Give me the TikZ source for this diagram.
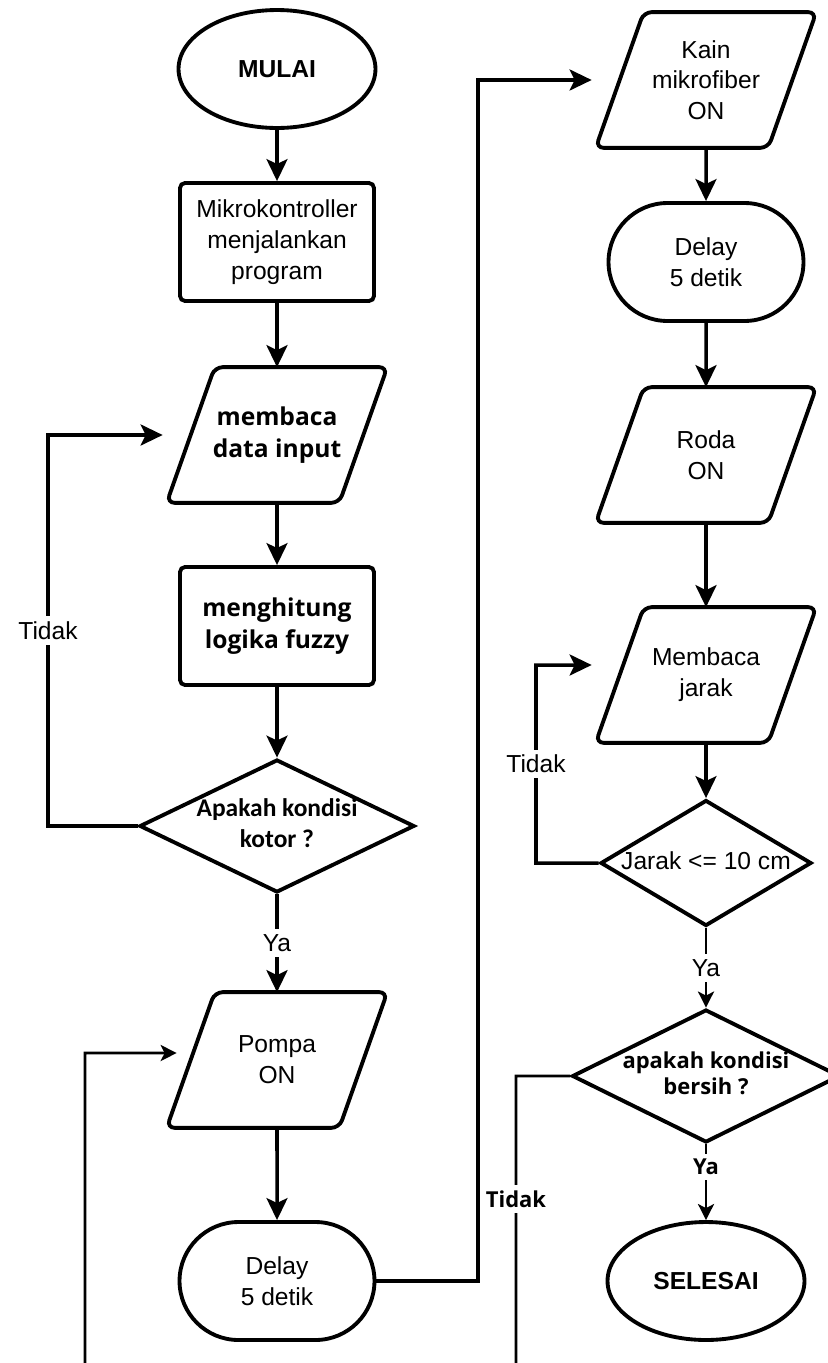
\documentclass[tikz,border=0pt]{standalone}
\usepackage{fontspec}
\setmainfont{Liberation Sans}
\newfontfamily\opensans{Open Sans}
\newfontfamily\carlito{Carlito}
\usetikzlibrary{shapes.geometric,shapes.misc,arrows.meta}
\newcommand\dlines[1]{\makebox[0pt]{\begin{tabular}{@{}c@{}}#1\end{tabular}}}

\begin{document}
\begin{tikzpicture}[x=0.02cm, y=-0.02cm,
		every node/.style={font=\fontsize{14}{17.5}\selectfont, align=center, inner sep=0pt},
		arr/.style={line width=2pt, -{Stealth[length=0.44cm, width=0.42cm, inset=0.1cm]}},
		arrs/.style={line width=1.6pt, -{Stealth[length=0.32cm, width=0.32cm, inset=0.08cm]}},
		ends/.style={draw, line width=2.2pt, ellipse, minimum width=3.94cm, minimum height=2.36cm},
		proc/.style={draw, line width=2.2pt, rectangle, rounded corners=0.1cm,
			minimum width=3.88cm, minimum height=2.36cm},
		io/.style={rectangle, minimum width=3.44cm, minimum height=2.7cm},
		para/.style={line width=2.2pt, rounded corners=0.16cm},
		delay/.style={draw, line width=2.2pt, rounded rectangle, minimum width=3.9cm, minimum height=2.36cm},
		decide/.style={draw, line width=2.2pt, diamond, minimum width=#1, minimum height=2.66cm},
		heavy/.style={font=\opensans\bfseries\fontsize{14}{18.5}\selectfont},
		calib/.style={font=\carlito\bfseries\fontsize{14.5}{17.5}\selectfont},
		small/.style={font=\opensans\bfseries\fontsize{12.5}{15}\selectfont},
		lbl/.style={fill=white, inner sep=3pt}]
	\useasboundingbox (0,0) rectangle (828,1363);

	% kolom kiri
	\node[ends] (mulai) at (277,69) {\textbf{MULAI}};
	\node[proc] (mikro) at (277,242) {Mikrokontroller\\menjalankan\\program};
	\node[io, heavy] (baca) at (277,435) {membaca\\data input};
	\node[proc, heavy] (hitung) at (277,626) {menghitung\\logika fuzzy};
	\node[decide=5.5cm, calib] (kotor) at (277,826) {\dlines{Apakah kondisi\\kotor ?}};
	\node[io] (pompa) at (277,1060) {Pompa\\ON};
	\node[delay] (tunda1) at (277,1281) {Delay\\5 detik};

	% kolom kanan
	\node[io] (kain) at (706,80) {Kain\\mikrofiber\\ON};
	\node[delay] (tunda2) at (706,262) {Delay\\5 detik};
	\node[io] (roda) at (706,455) {Roda\\ON};
	\node[io] (bacajarak) at (706,675) {Membaca\\jarak};
	\node[decide=4.22cm, minimum height=2.52cm] (cek) at (706,863) {\dlines{Jarak <= 10 cm}};
	\node[decide=5.36cm, small] (bersih) at (706,1076) {\dlines{apakah kondisi\\bersih ?}};
	\node[ends] (selesai) at (706,1281) {\textbf{SELESAI}};

	% jajaran genjang input/output
	\foreach \n in {baca,pompa,kain,roda,bacajarak}
		\draw[para] ([xshift=-0.48cm]\n.south west) -- ([xshift=-0.48cm]\n.south east)
			-- ([xshift=0.48cm]\n.north east) -- ([xshift=0.48cm]\n.north west) -- cycle;

	\draw[arr] (mulai) -- (mikro);
	\draw[arr] (mikro) -- (baca);
	\draw[arr] (baca) -- (hitung);
	\draw[arr] (hitung) -- (kotor);
	\draw[arr] (kotor) -- node[lbl] {Ya} (pompa);
	\draw[arr] (pompa) -- (tunda1);
	\draw[arr, shorten >=0.56cm] (kotor.west) -- (48,826) -- node[lbl] {Tidak} (48,435) -- (baca.west);
	\draw[arr, shorten >=0.56cm] (tunda1.east) -- (478,1281) -- (478,80) -- (kain.west);

	\draw[arr] (kain) -- (tunda2);
	\draw[arr] (tunda2) -- (roda);
	\draw[arr] (roda) -- (bacajarak);
	\draw[arr] (bacajarak) -- (cek);
	\draw[arr, shorten >=0.56cm] (cek.west) -- (536,863) -- node[lbl] {Tidak} (536,665)
		-- ([yshift=0.2cm]bacajarak.west);
	\draw[arrs] (cek) -- node[lbl] {Ya} (bersih);
	\draw[arrs] (bersih) -- node[lbl, small, pos=0.3] {Ya} (selesai);
	\draw[arrs, shorten >=0.28cm] (bersih.west) -- (516,1076) -- node[lbl, small, pos=0.38] {Tidak} (516,1400)
		-| (85,1053) -- ([yshift=0.14cm]pompa.west);
\end{tikzpicture}
\end{document}
